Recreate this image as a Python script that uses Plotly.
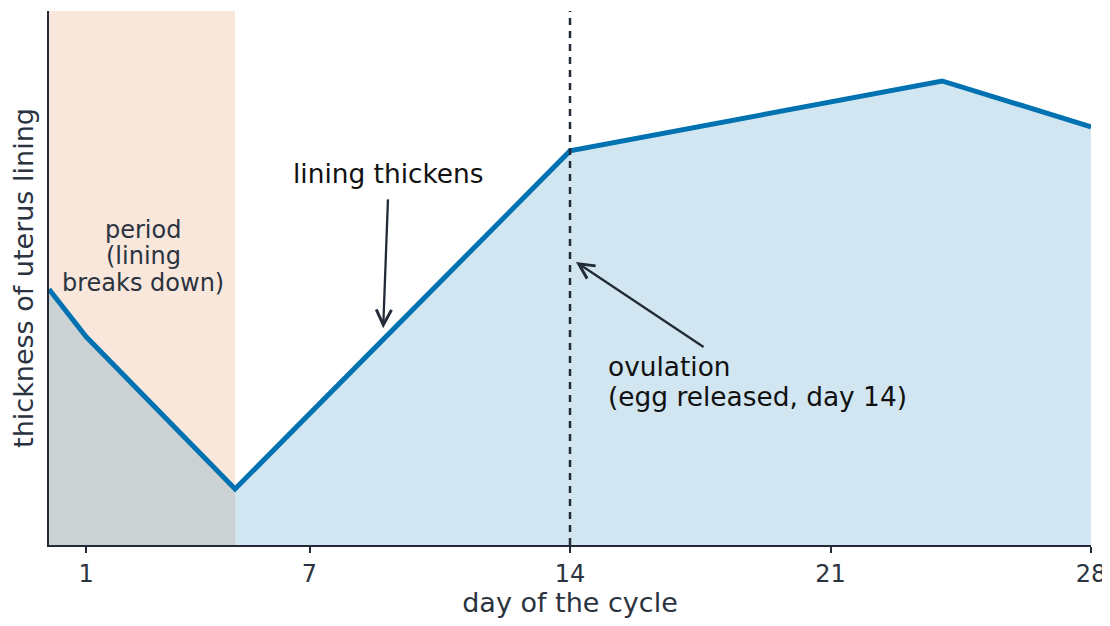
import plotly.graph_objects as go

# Data
days = [0, 1, 5, 14, 24, 28]
thickness = [4.79, 3.90, 1.05, 7.38, 8.69, 7.83]
tick_days = [1, 7, 14, 21, 28]
tick_labels = ["1", "7", "14", "21", "28"]
period_start, period_end = 0, 5
ovulation_day = 14

AX = "#232b38"
TXT = "#2b3340"
FONT = "DejaVu Sans"

fig = go.Figure()
fig.add_trace(go.Scatter(
    x=days, y=thickness, mode="lines",
    line=dict(color="#0072b2", width=5),
    fill="tozeroy", fillcolor="rgba(0,114,178,0.18)",
    hoverinfo="skip", showlegend=False,
))

# period shading
fig.add_shape(type="rect", xref="x", yref="paper", x0=period_start, x1=period_end,
              y0=0, y1=1, fillcolor="#f9e7dc", line=dict(width=0), layer="below")
# ovulation dashed line
fig.add_shape(type="line", xref="x", yref="paper", x0=ovulation_day, x1=ovulation_day,
              y0=0, y1=1, line=dict(color=AX, width=2.5, dash="7px,6px"), layer="above")

# Annotations
fig.add_annotation(x=9.11, y=6.95, text="lining thickens", showarrow=False,
                   font=dict(family=FONT, size=26.4, color="#111111"), xanchor="center", yanchor="middle")
fig.add_annotation(x=8.98, y=4.06, ax=9.11, ay=6.50, axref="x", ayref="y", xref="x", yref="y",
                   text="", showarrow=True, arrowhead=5, arrowsize=1.3, arrowwidth=2.3, arrowcolor=AX)

for t, yy in [("ovulation", 3.35), ("(egg released, day 14)", 2.79)]:
    fig.add_annotation(x=14.96, y=yy, text=t, showarrow=False,
                       font=dict(family=FONT, size=26.4, color="#111111"), xanchor="left", yanchor="middle")
fig.add_annotation(x=14.16, y=5.30, ax=17.63, ay=3.69, axref="x", ayref="y", xref="x", yref="y",
                   text="", showarrow=True, arrowhead=5, arrowsize=1.3, arrowwidth=2.3, arrowcolor=AX)

for t, yy in [("period", 5.90), ("(lining", 5.41), ("breaks down)", 4.91)]:
    fig.add_annotation(x=2.53, y=yy, text=t, showarrow=False,
                       font=dict(family=FONT, size=24, color=TXT), xanchor="center", yanchor="middle")

# the page keeps its default 8px body margin: the figure is sized so the page is 1110x626
fig.update_layout(
    width=1102, height=610,
    margin=dict(l=41, r=19, t=3, b=73),
    paper_bgcolor="white", plot_bgcolor="white",
    font=dict(family=FONT, color=TXT),
    xaxis=dict(range=[0, 28], tickvals=tick_days, ticktext=tick_labels, automargin=False,
               showgrid=False, zeroline=False, showline=True, linecolor=AX, linewidth=2,
               ticks="outside", ticklen=6, tickwidth=2, tickcolor=AX, ticklabeloverflow="allow",
               tickfont=dict(family=FONT, size=24, color=TXT),
               title=dict(text="day of the cycle", font=dict(family=FONT, size=27, color=TXT), standoff=14)),
    yaxis=dict(range=[0, 10], showticklabels=False, ticks="", showgrid=False, zeroline=False,
               showline=True, linecolor=AX, linewidth=2, automargin=False,
               title=dict(text="thickness of uterus lining", font=dict(family=FONT, size=27, color=TXT), standoff=8)),
)

fig.write_html("out.html", config={"displayModeBar": False})
